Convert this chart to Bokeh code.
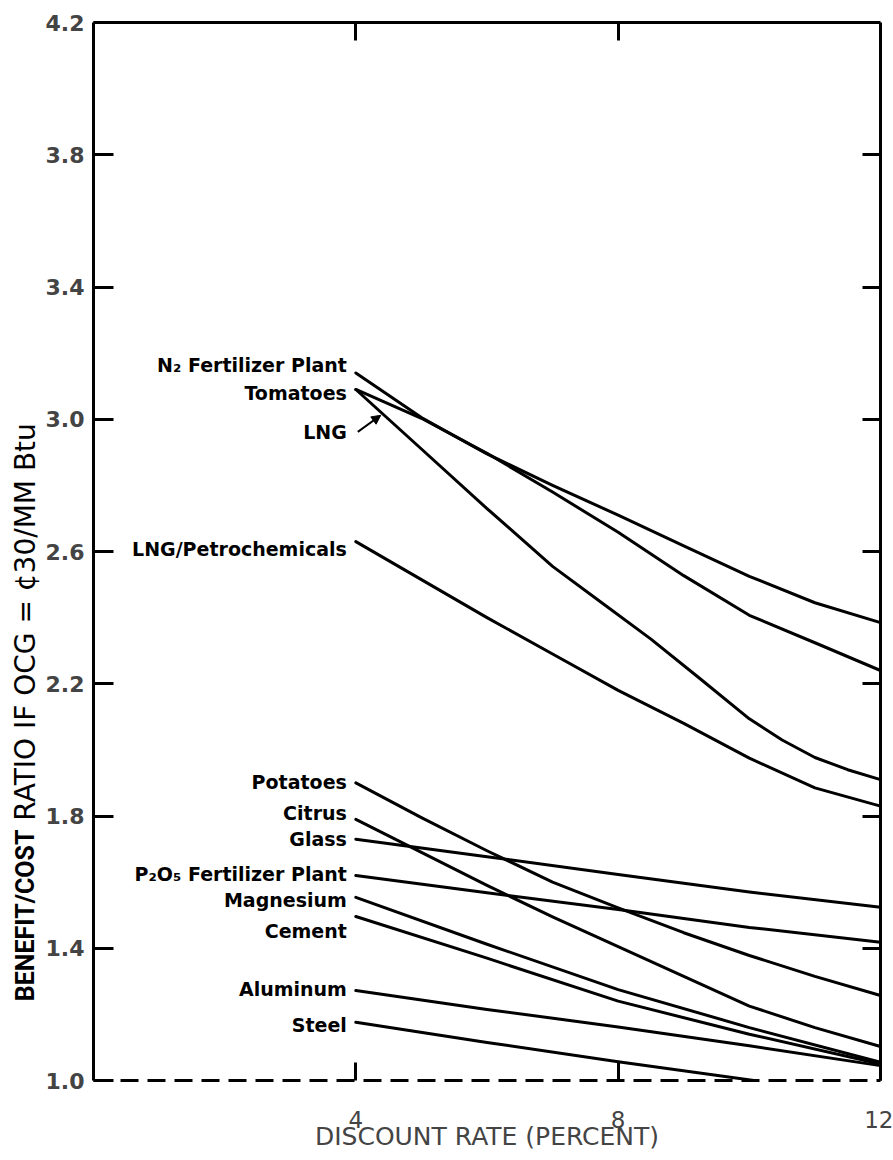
from bokeh.plotting import figure
from bokeh.layouts import row
from bokeh.models import (Range1d, LinearAxis, FixedTicker, Arrow,
                          NormalHead, ColumnDataSource, NumeralTickFormatter)
from bokeh.core.properties import value
from bokeh.embed import file_html
from bokeh.resources import INLINE

# ---------------- data ----------------
x_full = [4, 5, 6, 7, 8, 9, 10, 11, 12]
n2_fertilizer = [3.14, 3.005, 2.895, 2.80, 2.71, 2.617, 2.525, 2.445, 2.385]
tomatoes = [3.09, 3.003, 2.897, 2.78, 2.658, 2.527, 2.407, 2.324, 2.24]
lng_petro = [2.63, 2.515, 2.40, 2.29, 2.18, 2.08, 1.975, 1.885, 1.83]
potatoes = [1.90, 1.795, 1.695, 1.60, 1.522, 1.447, 1.378, 1.315, 1.257]
citrus = [1.79, 1.69, 1.59, 1.495, 1.405, 1.315, 1.225, 1.16, 1.103]

x_lng = [4, 5, 6, 7, 7.75, 8.5, 9.25, 10, 10.5, 11, 11.5, 12]
lng = [3.09, 2.91, 2.73, 2.555, 2.445, 2.335, 2.215, 2.094, 2.03, 1.977, 1.94, 1.91]

x_half = [4, 6, 8, 10, 12]
glass = [1.73, 1.677, 1.623, 1.570, 1.524]
p2o5_fertilizer = [1.62, 1.568, 1.517, 1.463, 1.418]
magnesium = [1.554, 1.412, 1.275, 1.16, 1.055]
cement = [1.496, 1.37, 1.24, 1.14, 1.05]
aluminum = [1.272, 1.215, 1.162, 1.105, 1.045]

x_steel = [4, 6, 8, 10.07]
steel = [1.176, 1.115, 1.057, 1.0]

label_names = ["N\u2082 Fertilizer Plant", "Tomatoes", "LNG", "LNG/Petrochemicals",
               "Potatoes", "Citrus", "Glass", "P\u2082O\u2085 Fertilizer Plant",
               "Magnesium", "Cement", "Aluminum", "Steel"]
label_x = [4, 4, 4, 4, 4, 4, 4, 4, 4, 4, 4, 4]
label_y = [3.163, 3.078, 2.96, 2.609, 1.904, 1.808, 1.729, 1.626,
           1.547, 1.451, 1.278, 1.169]

lng_arrow_start = (4.03, 2.962)
lng_arrow_end = (4.38, 3.012)

y_ticks = [1.0, 1.4, 1.8, 2.2, 2.6, 3.0, 3.4, 3.8, 4.2]
x_ticks = [4, 8, 12]
x_title = "DISCOUNT RATE (PERCENT)"
y_title_bold = "BENEFIT/COST"
y_title_rest = "RATIO IF OCG = \u00a230/MM Btu"
y_title_split = [1.759, 1.786]   # where the bold part ends / the rest begins

# ---------------- main figure ----------------
TOTAL_W, TOTAL_H = 893, 1160
TITLE_W = 42
p = figure(width=TOTAL_W - TITLE_W, height=TOTAL_H, output_backend="svg",
           toolbar_location=None,
           x_range=Range1d(0, 12), y_range=Range1d(1.0, 4.2),
           x_axis_location=None, y_axis_location=None,
           min_border_left=50, min_border_right=13, min_border_top=22,
           min_border_bottom=80)
p.grid.visible = False
p.outline_line_color = None
p.background_fill_color = "white"
p.border_fill_color = "white"

AX_W = 3

left = LinearAxis(ticker=FixedTicker(ticks=y_ticks),
                  formatter=NumeralTickFormatter(format="0.0"),
                  major_tick_in=20, major_tick_out=0,
                  minor_tick_line_color=None,
                  axis_line_width=AX_W, major_tick_line_width=AX_W,
                  major_label_text_font="DejaVu Sans",
                  major_label_text_font_style="bold",
                  major_label_text_font_size="22px",
                  major_label_standoff=9)
p.add_layout(left, "left")

right = LinearAxis(ticker=FixedTicker(ticks=y_ticks[1:-1]),
                   major_tick_in=18, major_tick_out=0,
                   minor_tick_line_color=None,
                   axis_line_width=AX_W, major_tick_line_width=AX_W,
                   major_label_text_font_size="0px", major_label_standoff=0)
p.add_layout(right, "right")

top = LinearAxis(ticker=FixedTicker(ticks=x_ticks[:-1]),
                 major_tick_in=18, major_tick_out=0,
                 minor_tick_line_color=None,
                 axis_line_width=AX_W, major_tick_line_width=AX_W,
                 major_label_text_font_size="0px", major_label_standoff=0)
p.add_layout(top, "above")

bottom = LinearAxis(ticker=FixedTicker(ticks=x_ticks),
                    formatter=NumeralTickFormatter(format="0"),
                    major_tick_in=18, major_tick_out=0,
                    minor_tick_line_color=None,
                    axis_line_width=AX_W, axis_line_dash="18 9",
                    major_tick_line_width=AX_W,
                    major_label_text_font="DejaVu Sans",
                    major_label_text_font_size="23px",
                    major_label_standoff=30,
                    axis_label=x_title,
                    axis_label_text_font="DejaVu Sans",
                    axis_label_text_font_style="normal",
                    axis_label_text_font_size="25px",
                    axis_label_standoff=-9)
p.add_layout(bottom, "below")

# ---------------- curves ----------------
LINE = dict(line_color="black", line_width=3, line_join="round", line_cap="round")
for ys in [n2_fertilizer, tomatoes, lng_petro, potatoes, citrus]:
    p.line(x_full, ys, **LINE)
p.line(x_lng, lng, **LINE)
for ys in [glass, p2o5_fertilizer, magnesium, cement, aluminum]:
    p.line(x_half, ys, **LINE)
p.line(x_steel, steel, **LINE)

# ---------------- curve labels ----------------
src = ColumnDataSource(dict(x=label_x, y=label_y, t=label_names))
p.text(x="x", y="y", text="t", source=src, x_offset=-9,
       text_align="right", text_baseline="middle",
       text_font=value("DejaVu Sans"), text_font_style="bold",
       text_font_size="19px", text_color="black")

p.add_layout(Arrow(end=NormalHead(size=9, fill_color="black", line_color="black"),
                   x_start=lng_arrow_start[0], y_start=lng_arrow_start[1],
                   x_end=lng_arrow_end[0], y_end=lng_arrow_end[1],
                   line_width=2, line_color="black"))

# ---------------- y-axis title (two styles) in a narrow side panel ----------------
t = figure(width=TITLE_W, height=TOTAL_H, output_backend="svg",
           toolbar_location=None, x_range=Range1d(0, 1), y_range=p.y_range,
           x_axis_location=None, y_axis_location=None,
           min_border=0, min_border_top=22, min_border_bottom=80)
t.grid.visible = False
t.outline_line_color = None
t.text(x=[0.6], y=[y_title_split[0]], text=[y_title_bold], angle=1.5707963,
       text_align="right", text_baseline="middle",
       text_font=value("Roboto"), text_font_style="bold",
       text_font_size="25px", text_color="black")
t.text(x=[0.6], y=[y_title_split[1]], text=[y_title_rest], angle=1.5707963,
       text_align="left", text_baseline="middle",
       text_font=value("DejaVu Sans"), text_font_size="28px",
       text_color="black")

layout = row(t, p)
open("out.html", "w").write(file_html(layout, INLINE))
